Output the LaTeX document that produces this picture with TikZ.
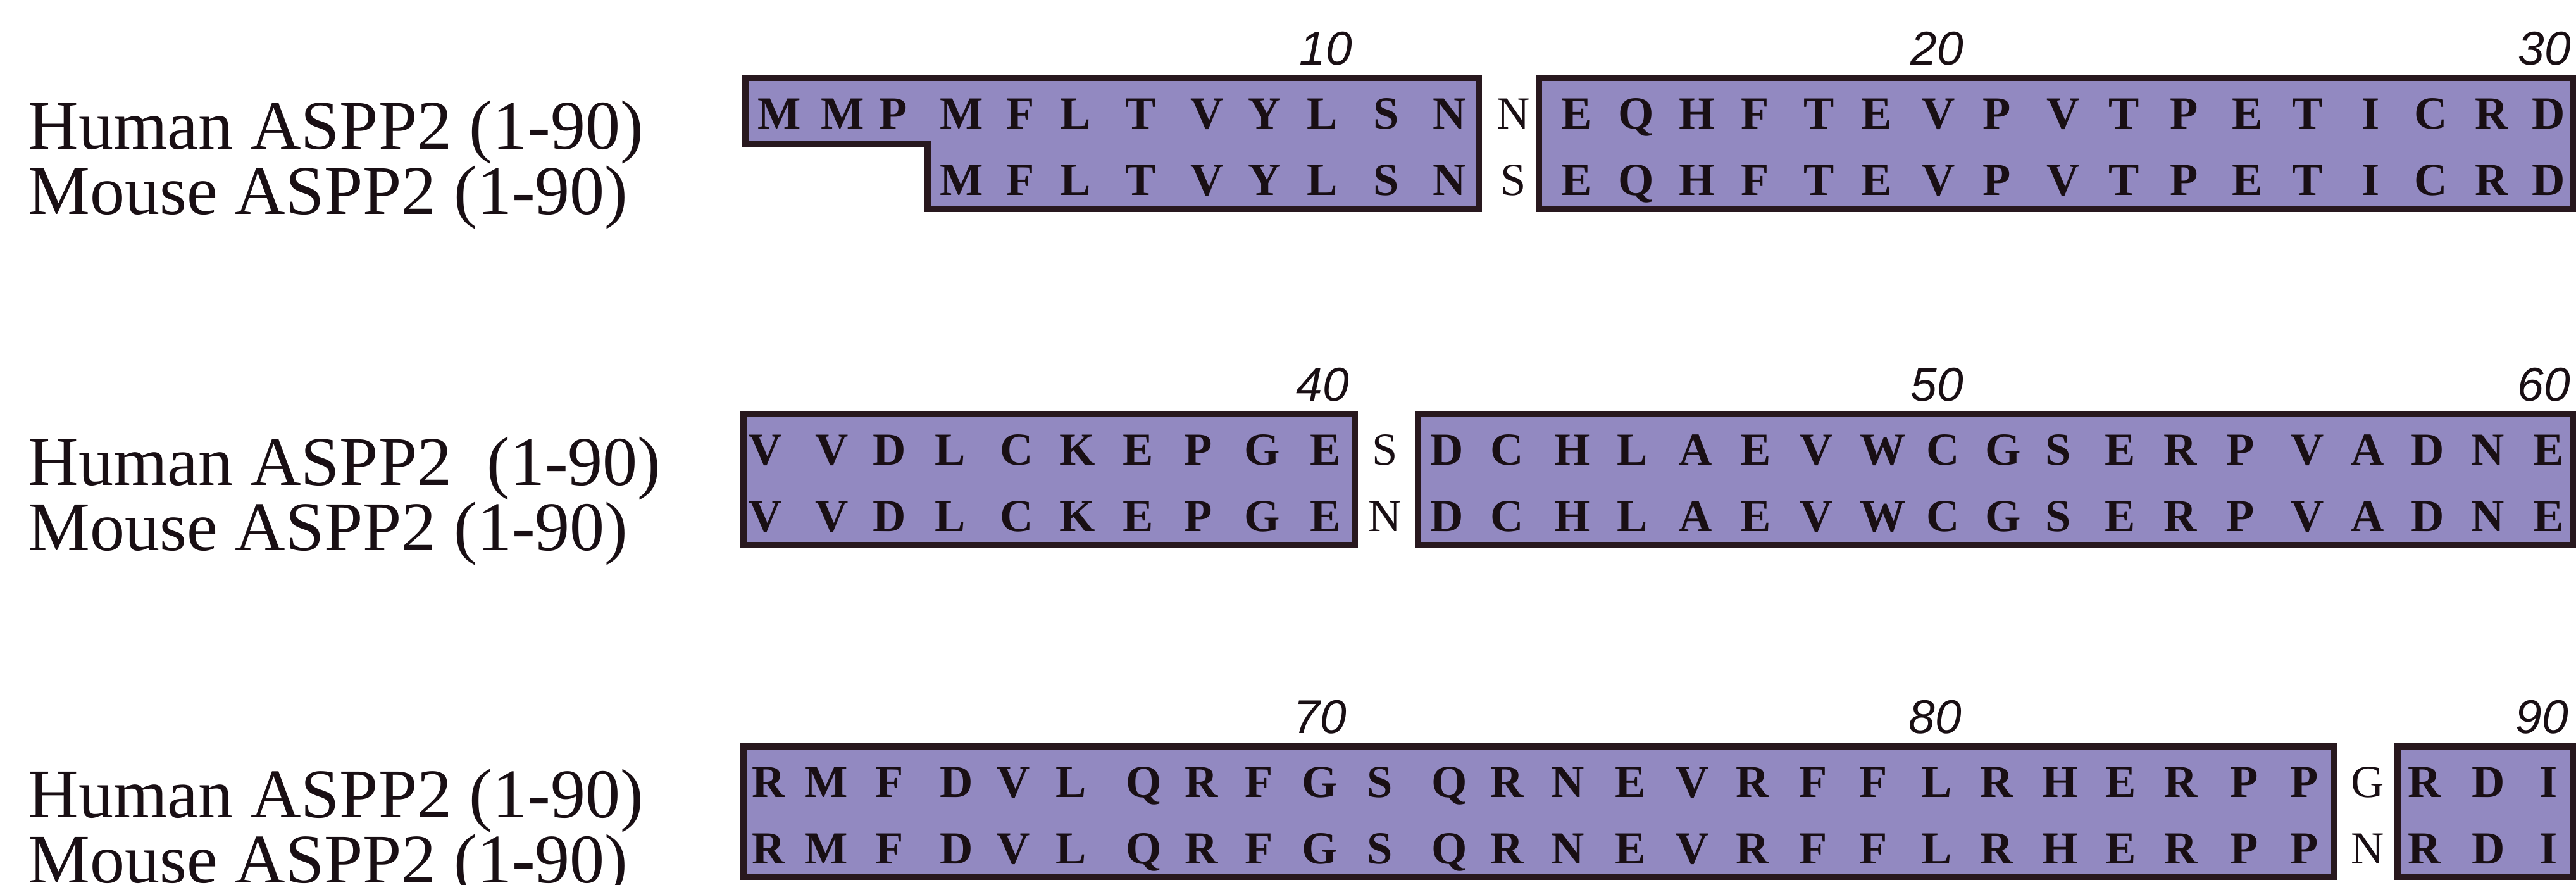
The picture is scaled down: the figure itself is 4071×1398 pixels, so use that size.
\documentclass[tikz,border=0pt]{standalone}
\usepackage{fontspec}
\setmainfont{Liberation Serif}
\newfontfamily\numfont{Liberation Sans}
\definecolor{boxfill}{RGB}{146,137,193}
\definecolor{boxline}{RGB}{40,24,30}
\definecolor{ink}{RGB}{25,15,20}
\begin{document}
\begin{tikzpicture}[x=0.01cm,y=-0.01cm,
  res/.style={font=\fontsize{20.6}{20.6}\selectfont\bfseries, text=ink, inner sep=0pt, anchor=base},
  gapres/.style={font=\fontsize{20.6}{20.6}\selectfont, text=ink, inner sep=0pt, anchor=base},
  lbl/.style={font=\fontsize{31.3}{31.3}\selectfont, text=ink, inner sep=0pt, anchor=base west},
  num/.style={font=\fontsize{21.3}{21.3}\selectfont\numfont\itshape, text=ink, inner sep=0pt},
  seqbox/.style={draw=boxline, fill=boxfill, line width=3.1pt, line join=miter}]
\useasboundingbox (0,0) rectangle (4071,1398);
\fill[white] (0,0) rectangle (4071,1398);

% ---------------- Block 1 (top 123, bottom 330) ----------------
\draw[seqbox] (1178,123) -- (2337,123) -- (2337,330) -- (1466,330) -- (1466,228) -- (1178,228) -- cycle;
\draw[seqbox] (2432,123) rectangle (4066,330);
\node[lbl] (lh1) at (44,236) {Human ASPP2 (1-90)};
\node[lbl] (lm1) at (44,339) {Mouse ASPP2 (1-90)};
\foreach \x/\l [count=\i] in {1232/M,1332/M,1412/P,1520/M,1613/F,1700/L,1803/T,1908/V,1999/Y,2090/L,2191/S,2291/N}
  \node[res] (ha\i) at (\x,204) {\l};
\foreach \x/\l [count=\i] in {1520/M,1613/F,1700/L,1803/T,1908/V,1999/Y,2090/L,2191/S,2291/N}
  \node[res] (ma\i) at (\x,309) {\l};
\node[gapres] (hg1) at (2392,204) {N};
\node[gapres] (mg1) at (2392,309) {S};
\foreach \x/\l [count=\i] in {2492/E,2586/Q,2682/H,2774/F,2875/T,2966/E,3064/V,3156/P,3261/V,3357/T,3452/P,3552/E,3647/T,3747/I,3842/C,3938/R,4028/D}
  {\node[res] (hb\i) at (\x,204) {\l};
   \node[res] (mb\i) at (\x,309) {\l};}
\node[num] (n10) at (2095,77) {10};
\node[num] (n20) at (3061,77) {20};
\node[num] (n30) at (4021,77) {30};

% ---------------- Block 2 (top 654, bottom 861) ----------------
\draw[seqbox] (1175,654) rectangle (2141,861);
\draw[seqbox] (2241,654) rectangle (4066,861);
\node[lbl] (lh2) at (44,767) {Human ASPP2~~(1-90)};
\node[lbl] (lm2) at (44,870) {Mouse ASPP2 (1-90)};
\foreach \x/\l [count=\i] in {1210/V,1315/V,1406/D,1502/L,1607/C,1703/K,1799/E,1894/P,1995/G,2095/E}
  {\node[res] (hc\i) at (\x,735) {\l};
   \node[res] (mc\i) at (\x,840) {\l};}
\node[gapres] (hg2) at (2189,735) {S};
\node[gapres] (mg2) at (2189,840) {N};
\foreach \x/\l [count=\i] in {2287/D,2382/C,2485/H,2580/L,2680/A,2775/E,2871/V,2976/W,3071/C,3166/G,3253/S,3351/E,3446/R,3541/P,3647/V,3742/A,3837/D,3932/N,4028/E}
  {\node[res] (hd\i) at (\x,735) {\l};
   \node[res] (md\i) at (\x,840) {\l};}
\node[num] (n40) at (2090,608) {40};
\node[num] (n50) at (3061,608) {50};
\node[num] (n60) at (4020,608) {60};

% ---------------- Block 3 (top 1179, bottom 1385) ----------------
\draw[seqbox] (1175,1179) rectangle (3689,1385);
\draw[seqbox] (3789,1179) rectangle (4066,1385);
\node[lbl] (lh3) at (44,1292) {Human ASPP2 (1-90)};
\node[lbl] (lm3) at (44,1395) {Mouse ASPP2 (1-90)};
\foreach \x/\l [count=\i] in {1215/R,1306/M,1406/F,1512/D,1602/V,1693/L,1808/Q,1899/R,1990/F,2086/G,2181/S,2291/Q,2382/R,2478/N,2577/E,2675/V,2770/R,2866/F,2961/F,3061/L,3156/R,3256/H,3352/E,3447/R,3547/P,3642/P}
  {\node[res] (he\i) at (\x,1260) {\l};
   \node[res] (me\i) at (\x,1365) {\l};}
\node[gapres] (hg3) at (3742,1260) {G};
\node[gapres] (mg3) at (3742,1365) {N};
\foreach \x/\l [count=\i] in {3832/R,3933/D,4028/I}
  {\node[res] (hf\i) at (\x,1260) {\l};
   \node[res] (mf\i) at (\x,1365) {\l};}
\node[num] (n70) at (2086,1133) {70};
\node[num] (n80) at (3058,1133) {80};
\node[num] (n90) at (4017,1133) {90};
\end{tikzpicture}
\end{document}
